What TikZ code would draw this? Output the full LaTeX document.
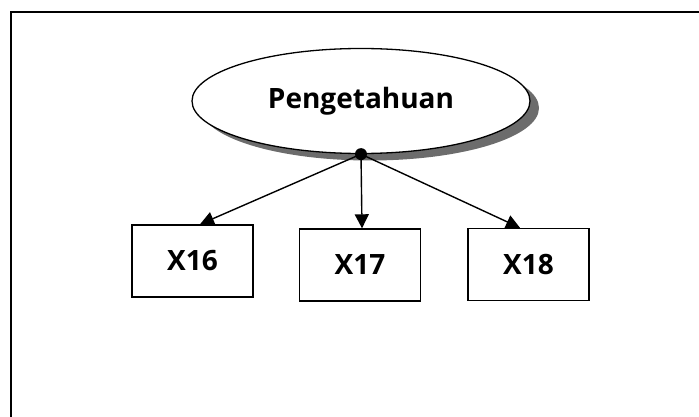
\documentclass[tikz,border=0pt]{standalone}
\usepackage{fontspec}
\setmainfont{Open Sans}
\usetikzlibrary{shapes.geometric,arrows.meta,shadows}
\begin{document}
\begin{tikzpicture}[x=1pt,y=1pt,
  latent/.style={ellipse,draw,line width=1.3pt,fill=white,minimum width=338pt,minimum height=105pt,
     font=\fontsize{28}{32}\selectfont\bfseries},
  obs/.style={rectangle,draw,line width=1.4pt,fill=white,minimum width=121pt,minimum height=72pt,
     font=\fontsize{28}{32}\selectfont\bfseries},
  conn/.style={line width=1.4pt,-{Triangle[length=14pt,width=14pt]}}]
\useasboundingbox (0,0) rectangle (699,-417);
\draw[line width=1.6pt] (11,-430) -- (11,-12) -- (710,-12);
% shadow
\fill[gray!85!black] (370,-108) ellipse (169 and 52.5);
\node[latent] (lat) at (361,-101) {Pengetahuan};
\node[obs] (x16) at (192.5,-261) {X16};
\node[obs] (x17) at (360,-265) {X17};
\node[obs] (x18) at (528.5,-264.5) {X18};
\fill (lat.south) circle (6);
\coordinate (p) at (lat.south);
\draw[conn] (p) -- (x16.north -| 200,0);
\draw[conn] (p) -- (x17.north -| 362,0);
\draw[conn] (p) -- (x18.north -| 520,0);
\end{tikzpicture}
\end{document}
